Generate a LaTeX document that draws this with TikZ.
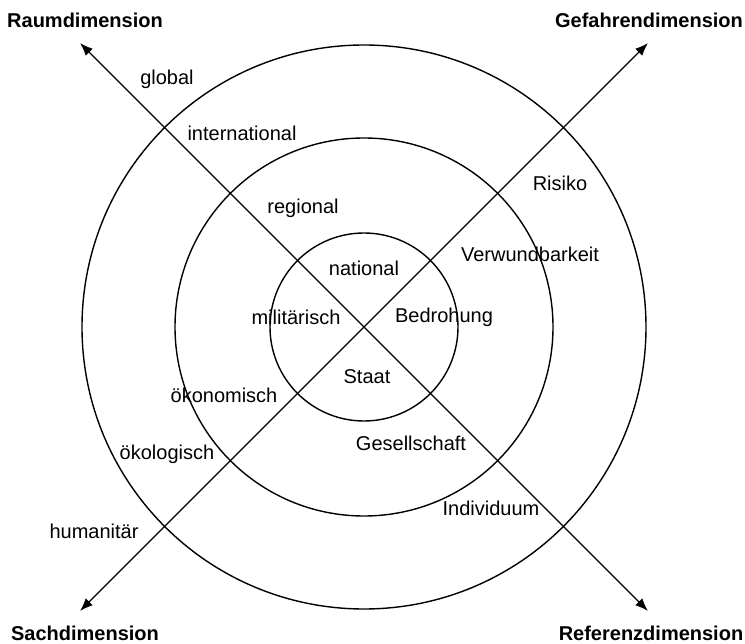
\documentclass[tikz,border=0pt]{standalone}
\usepackage{fontspec}
\setmainfont{Liberation Sans}
\usetikzlibrary{arrows.meta}

\begin{document}
\begin{tikzpicture}[x=1pt,y=-1pt,
  ring/.style={line width=1.4pt},
  axis/.style={line width=1.4pt,-{Latex[length=13pt,width=10pt]}},
  lbl/.style={inner sep=0pt,font=\fontsize{20}{24}\selectfont},
  dimlbl/.style={inner sep=0pt,font=\fontsize{20}{24}\selectfont\bfseries}]
\useasboundingbox (0,0) rectangle (745,644);
% Drawing rings
\coordinate (c) at (364,327);
\draw[ring] (c) circle (94pt);
\draw[ring] (c) circle (189pt);
\draw[ring] (c) circle (282pt);
% Drawing axes
\coordinate (raum) at (80,43);
\coordinate (gefahr) at (648,43);
\coordinate (sach) at (80,611);
\coordinate (referenz) at (648,611);
\draw[axis] (c) -- (raum);
\draw[axis] (c) -- (gefahr);
\draw[axis] (c) -- (sach);
\draw[axis] (c) -- (referenz);
% Axis titles
\node[dimlbl] (raumlbl) at (85,20) {Raumdimension};
\node[dimlbl] (gefahrlbl) at (649,20) {Gefahrendimension};
\node[dimlbl] (sachlbl) at (85,633) {Sachdimension};
\node[dimlbl] (referenzlbl) at (651,633) {Referenzdimension};
% Raum: global ... national
\node[lbl] (global) at (167,79) {global};
\node[lbl] (international) at (242,133) {international};
\node[lbl] (regional) at (303,208) {regional};
\node[lbl] (national) at (364,268) {national};
% Gefahr: Risiko ... Bedrohung
\node[lbl] (risiko) at (560,183) {Risiko};
\node[lbl] (verwund) at (530,254) {Verwundbarkeit};
\node[lbl] (bedrohung) at (444,317) {Bedrohung};
% Sach: humanitär ... militärisch
\node[lbl] (humanitaer) at (94,531) {humanitär};
\node[lbl] (oekolog) at (167,454) {ökologisch};
\node[lbl] (oekonom) at (224,395) {ökonomisch};
\node[lbl] (militaer) at (296,317) {militärisch};
% Referenz: Staat ... Individuum
\node[lbl] (staat) at (367,377) {Staat};
\node[lbl] (gesell) at (411,443) {Gesellschaft};
\node[lbl] (individuum) at (491,508) {Individuum};
\end{tikzpicture}
\end{document}
